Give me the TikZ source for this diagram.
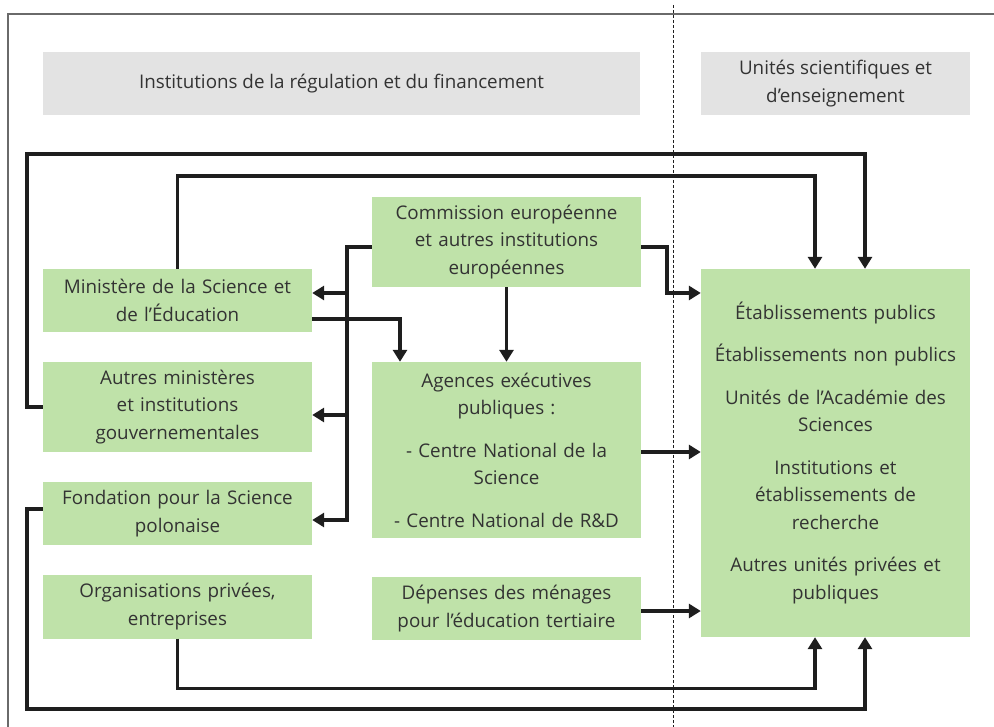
\documentclass[tikz,border=0pt]{standalone}
\usepackage{fontspec}
\setmainfont{Open Sans}
\usetikzlibrary{arrows.meta}
\definecolor{boxgreen}{HTML}{BFE2A9}
\definecolor{hdrgray}{HTML}{E3E3E3}
\definecolor{txt}{HTML}{333333}
\definecolor{ln}{HTML}{1E1E1E}
\definecolor{frm}{HTML}{6A6A6A}
\tikzset{
  gbox/.style={rectangle, fill=boxgreen, inner sep=0pt, minimum width=269pt, text width=262pt, align=center, text=txt, font=\fontsize{18.8}{27.5}\selectfont},
  hbox/.style={rectangle, fill=hdrgray, inner sep=0pt, minimum height=63pt, align=center, text=txt, font=\fontsize{18.8}{27.5}\selectfont},
  conn/.style={draw=ln, line width=3.2pt, line join=miter},
  arr/.style={conn, -{Triangle[width=14pt,length=12pt]}},
}
\begin{document}
\begin{tikzpicture}[x=1pt,y=-1pt]
\useasboundingbox (0,0) rectangle (994,727);
% frame
\draw[frm, line width=1.5pt] (8,727) -- (8,14) -- (994,14);
\draw[ln, line width=0.9pt, dash pattern=on 3pt off 2pt] (673,5) -- (673,727);
% headers
\node[hbox, minimum width=597pt] (hdrL) at (341.5,83.5) {Institutions de la régulation et du financement};
\node[hbox, minimum width=269pt] (hdrR) at (835.5,83.5) {Unités scientifiques et\\d’enseignement};
% boxes
\node[gbox, minimum height=63pt] (min) at (177.5,300.5) {Ministère de la Science et\\de l’Éducation};
\node[gbox, minimum height=90pt] (autres) at (177.5,407) {Autres ministères\\et institutions\\gouvernementales};
\node[gbox, minimum height=63pt] (fond) at (177.5,513.5) {Fondation pour la Science\\polonaise};
\node[gbox, minimum height=64pt] (org) at (177.5,606.5) {Organisations privées,\\entreprises};
\node[gbox, minimum height=90pt] (comm) at (506.5,242) {Commission européenne\\et autres institutions\\européennes};
\node[gbox, minimum height=176pt] (ag) at (506.5,450) {Agences exécutives\\publiques :\\[15pt]- Centre National de la\\Science\\[15pt]- Centre National de R\&D};
\node[gbox, minimum height=63pt] (dep) at (506.5,608.5) {Dépenses des ménages\\pour l’éducation tertiaire};
\node[gbox, minimum height=368pt] (etab) at (835.5,453) {Établissements publics\\[15pt]Établissements non publics\\[15pt]Unités de l’Académie des\\Sciences\\[15pt]Institutions et\\établissements de\\recherche\\[15pt]Autres unités privées et\\publiques};
% helper coordinates
\coordinate (busx) at (347,0);
\coordinate (midx) at (667,0);
\coordinate (lt) at (27,154);
\coordinate (lb) at (27,709);
% connectors
\draw[arr] (min.north) -- (min.north |- 0,176) -| ([xshift=-20.5pt]etab.north);
\draw[arr] (autres.west) -| (lt) -| ([xshift=29.5pt]etab.north);
\coordinate (ma) at ([yshift=7.5pt]min.east);
\coordinate (aa) at ([yshift=-8pt]autres.east);
\coordinate (fa) at ([yshift=-6.5pt]fond.east);
\draw[arr] ([yshift=-5pt]comm.west) -| (busx |- fa) -- (fa);
\draw[arr] (busx |- ma) -- (ma);
\draw[arr] (busx |- aa) -- (aa);
\draw[arr] ([yshift=-18.5pt]min.east) -| ([xshift=-106.5pt]ag.north);
\draw[arr] (comm.south) -- (ag.north);
\coordinate (e1) at ([yshift=160pt]etab.west);
\draw[arr] ([yshift=-5pt]comm.east) -| (midx |- e1) -- (e1);
\draw[arr] ([yshift=-2pt]ag.east) -- ([yshift=-2pt]ag.east -| etab.west);
\draw[arr] ([yshift=-2.5pt]dep.east) -- ([yshift=-2.5pt]dep.east -| etab.west);
\draw[arr] (org.south) -- ++(0,49.5) -| ([xshift=-20.5pt]etab.south);
\draw[arr] ([yshift=4.5pt]fond.west) -| (lb) -| ([xshift=29.5pt]etab.south);
\end{tikzpicture}
\end{document}
